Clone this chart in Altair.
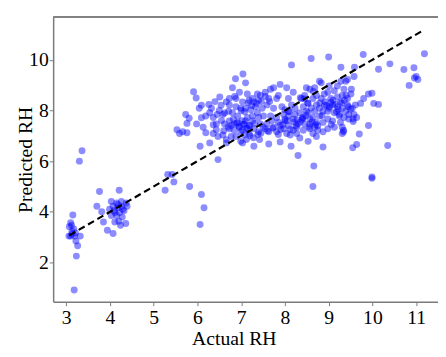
import altair as alt
import pandas as pd

# Actual RH (x) and Predicted RH (y)
actual = [
    3.15, 3.10, 3.12, 3.07, 3.17, 3.13, 3.10, 3.19, 3.32, 3.22, 3.26, 3.23, 3.18, 3.30, 3.36, 3.13, 3.06, 3.21,
    3.76, 3.70, 3.81, 3.85, 3.94, 4.07, 4.21, 4.03, 4.15, 4.26, 4.37, 4.07, 4.18, 4.29, 4.11, 4.22, 4.32, 4.03,
    4.15, 4.28, 4.11, 4.24, 4.36, 3.99, 4.26, 4.39, 4.18, 4.09, 4.20,
    5.26, 5.32, 5.42, 5.46, 5.82, 6.09, 6.15, 6.06, 6.47, 6.06, 8.64, 8.66, 9.99, 9.99, 8.30, 10.35, 9.55, 9.64,
    8.87, 8.14, 7.89, 7.63, 7.29, 6.66,
    8.15, 8.60, 9.00, 9.79, 11.19, 10.40, 10.14, 10.72, 10.95, 10.84, 11.00, 11.04, 10.96, 9.28, 9.59, 9.43, 9.58,
    10.14, 10.03, 9.91, 9.99, 9.91, 9.70, 9.56, 9.31, 9.34, 8.72, 8.53, 8.75,
    5.91, 5.97, 5.73, 5.81, 5.76, 5.53, 5.59, 5.66, 5.76, 5.98, 6.04, 6.09, 6.13, 6.19, 6.28, 6.09, 6.19, 6.26,
    6.28, 6.36, 6.43, 6.51, 6.54, 6.66, 6.73, 6.45, 6.58, 6.71, 6.62, 6.73, 6.84, 6.80, 6.87, 7.04, 7.10, 6.96,
    6.88, 7.03, 6.99, 6.92, 6.88, 6.99, 7.03, 7.07, 6.77, 6.66, 6.58, 6.47,
    7.18, 7.29, 7.40, 7.22, 7.33, 7.48, 7.14, 7.26, 7.40, 7.51, 7.18, 7.07, 6.96, 6.84, 7.29, 7.40, 7.18, 7.03,
    7.14, 7.37, 7.55, 7.67, 7.74, 7.89, 7.63, 7.81, 7.59, 7.74, 7.93, 7.67, 7.81, 7.97, 7.59, 7.74, 7.63, 7.81,
    7.89, 8.00, 8.08, 8.04, 8.19, 8.15, 8.08, 8.23, 8.08, 8.19, 8.04, 8.27, 8.34, 8.42, 8.30, 8.42, 8.57, 8.49,
    8.38, 8.45, 8.57, 8.49, 8.68, 8.79, 8.83, 8.64, 8.72, 8.83, 8.90, 8.68, 8.79, 8.57, 8.68, 8.57, 8.64, 8.87,
    8.98, 8.98, 9.05, 9.13, 9.01, 9.20, 9.35, 9.31, 9.43, 9.51, 9.52, 9.09, 9.20, 9.31, 9.43, 9.54, 9.61, 9.73,
    9.80, 9.13, 9.24, 9.35, 9.46, 9.58, 9.09, 9.27, 9.31, 9.13, 8.98, 8.87, 9.56, 8.98, 8.90, 8.72, 9.28, 9.39,
    6.73, 6.77, 6.92, 7.10, 6.99, 7.14, 7.26, 7.37, 7.44, 7.55, 6.36, 6.43, 6.36, 6.32, 6.73, 6.88, 6.80, 7.10,
    7.26, 7.44, 7.85, 8.23, 8.00, 8.42, 8.53, 8.19, 8.45, 8.64, 8.27, 8.12, 7.97, 7.85, 7.70, 8.08, 8.53, 8.34,
    8.72, 8.79, 8.87, 9.01, 9.20, 9.27, 9.39, 9.46, 9.34, 9.64,
    # extra points in the dense core
    6.95, 7.05, 7.12, 7.20, 7.31, 7.02, 6.90, 7.16, 7.24, 7.35, 7.46, 7.08, 6.82, 6.70, 6.60, 6.55, 6.50, 6.40,
    7.20, 7.28, 7.12, 7.38, 7.50, 7.60, 7.72, 7.85, 7.95, 8.05, 8.12, 8.25, 8.35, 8.40, 8.48, 8.55, 8.62, 8.70,
    8.35, 8.45, 8.52, 8.60, 8.28, 8.40, 8.95, 9.05, 9.15, 9.22, 9.30, 9.10, 9.02, 9.18, 9.25, 9.36, 9.45, 8.92,
    9.50, 9.40, 9.06, 8.80, 8.75, 8.85, 7.65, 7.55, 7.45, 7.90, 8.00, 8.10, 6.62, 6.85, 7.00, 7.42, 8.20, 8.65,
]
predicted = [
    3.87, 3.57, 3.47, 3.41, 3.32, 3.22, 3.04, 3.04, 3.04, 2.85, 2.66, 2.25, 0.91, 6.00, 6.41, 3.12, 3.04, 3.16,
    4.80, 4.22, 4.00, 3.60, 3.27, 3.14, 4.85, 4.41, 4.35, 4.41, 4.35, 4.22, 4.16, 4.10, 3.97, 3.97, 4.04, 3.85,
    3.85, 3.79, 3.60, 3.47, 3.54, 4.10, 4.22, 4.22, 4.29, 4.04, 3.63,
    4.85, 5.47, 5.47, 5.18, 5.00, 4.68, 4.16, 3.50, 6.06, 6.59, 5.00, 5.81, 5.32, 5.37, 6.22, 6.62, 6.53, 6.66,
    6.56, 6.59, 6.76, 6.68, 6.59, 6.72,
    9.80, 10.05, 10.11, 10.21, 10.24, 9.84, 9.63, 9.62, 9.69, 8.99, 9.34, 9.22, 9.28, 9.71, 9.71, 9.22, 9.34,
    8.24, 8.28, 8.65, 8.68, 7.41, 7.07, 7.66, 7.09, 7.22, 6.97, 6.78, 7.22,
    8.74, 8.49, 7.84, 7.69, 7.49, 7.24, 7.09, 7.16, 7.12, 7.47, 8.09, 7.71, 7.34, 7.12, 6.72, 8.21, 7.78, 8.24,
    7.91, 7.44, 7.24, 8.53, 8.21, 8.34, 8.47, 7.84, 7.84, 7.97, 7.47, 7.28, 7.47, 8.90, 9.25, 9.44, 9.09, 8.72,
    8.47, 8.34, 8.09, 7.78, 6.97, 6.78, 6.72, 7.03, 6.97, 6.85, 7.03, 6.97,
    8.40, 8.34, 8.40, 8.03, 8.15, 8.09, 7.72, 7.59, 7.72, 7.78, 7.41, 7.47, 7.34, 7.22, 7.28, 7.16, 7.09, 7.22,
    8.65, 8.65, 8.72, 8.84, 8.90, 9.03, 8.47, 8.47, 8.22, 8.09, 8.15, 7.78, 7.72, 7.84, 7.47, 7.34, 7.16, 7.16,
    7.41, 7.59, 8.47, 8.90, 8.72, 8.22, 7.97, 7.84, 7.41, 7.22, 7.09, 7.09, 6.91, 7.22, 7.47, 7.72, 7.66, 7.97,
    8.47, 8.59, 8.84, 8.90, 8.90, 9.15, 9.09, 8.47, 8.22, 8.47, 8.22, 7.97, 7.78, 7.47, 7.34, 7.28, 7.09, 7.53,
    7.66, 7.97, 8.47, 8.78, 8.97, 8.97, 8.84, 8.59, 8.47, 8.65, 8.84, 8.22, 8.15, 8.09, 8.22, 8.09, 8.22, 8.28,
    8.47, 7.91, 7.78, 7.72, 7.84, 7.84, 7.59, 7.53, 7.34, 7.34, 7.28, 7.16, 7.56, 8.72, 8.65, 8.59, 9.15, 9.15,
    7.59, 7.41, 7.53, 7.59, 7.16, 7.28, 7.78, 7.91, 7.47, 7.28, 7.09, 7.47, 7.72, 8.09, 8.22, 8.15, 7.91, 8.09,
    8.47, 8.59, 8.59, 8.09, 8.03, 8.15, 8.28, 7.66, 7.47, 7.72, 7.34, 7.03, 7.28, 7.53, 7.59, 7.78, 7.91, 7.91,
    7.53, 8.09, 7.97, 8.09, 8.53, 8.34, 7.97, 7.66, 7.16, 7.72,
    7.38, 7.45, 7.30, 7.40, 7.50, 7.60, 7.50, 8.30, 8.20, 8.28, 8.35, 7.95, 7.65, 7.35, 7.20, 7.60, 8.00, 8.35,
    7.00, 6.92, 6.85, 7.05, 7.35, 7.20, 7.30, 7.05, 7.45, 7.60, 7.25, 7.40, 7.55, 7.65, 7.80, 7.35, 7.55, 7.45,
    8.50, 8.45, 8.30, 8.10, 7.62, 7.70, 8.20, 8.32, 8.25, 8.05, 8.30, 8.40, 8.15, 7.95, 7.85, 8.40, 8.15, 8.35,
    8.05, 8.60, 7.45, 8.30, 7.40, 7.80, 8.35, 8.55, 7.10, 7.25, 7.65, 7.95, 7.90, 8.55, 8.00, 6.85, 7.55, 8.75,
]

# identity reference line (y = x)
line_x = [3.07, 11.19]
line_y = [3.07, 11.19]

x_ticks = [3, 4, 5, 6, 7, 8, 9, 10, 11]
y_ticks = [2, 4, 6, 8, 10]

pts = pd.DataFrame({"actual": actual, "predicted": predicted})
ref = pd.DataFrame({"actual": line_x, "predicted": line_y})

W, H = 392, 290
FONT = "Liberation Serif"
GRAY = "#7a7a7a"

xscale = alt.Scale(domain=[2.7, 11.5], nice=False, zero=False)
yscale = alt.Scale(domain=[0.45, 11.69], nice=False, zero=False)

xaxis = alt.Axis(
    values=x_ticks, title="Actual RH", grid=False, domainColor=GRAY, domainWidth=1.5,
    tickColor=GRAY, tickSize=4, tickWidth=1, labelPadding=2,
    labelFont=FONT, labelFontSize=20, labelColor="black",
    titleFont=FONT, titleFontSize=20, titleFontWeight="normal", titleColor="black",
    titleX=184, titleY=44, titleBaseline="alphabetic",
)
yaxis = alt.Axis(
    values=y_ticks, title="Predicted RH", grid=False, domainColor=GRAY, domainWidth=1.5,
    tickColor=GRAY, tickSize=4, tickWidth=1, labelPadding=1,
    labelFont=FONT, labelFontSize=20, labelColor="black",
    titleFont=FONT, titleFontSize=20, titleFontWeight="normal", titleColor="black",
    titleX=-22, titleY=H / 2, titleAngle=-90, titleAlign="center", titleBaseline="alphabetic",
)

points = alt.Chart(pts).mark_circle(size=50, color="#0000ff", opacity=0.45).encode(
    x=alt.X("actual:Q", scale=xscale, axis=xaxis),
    y=alt.Y("predicted:Q", scale=yscale, axis=yaxis),
)

line = alt.Chart(ref).mark_line(color="black", strokeWidth=2.2, strokeDash=[7, 4]).encode(
    x=alt.X("actual:Q", scale=xscale),
    y=alt.Y("predicted:Q", scale=yscale),
)

top_border = alt.Chart(ref).mark_rule(color=GRAY, strokeWidth=1.5).encode(
    x=alt.value(0), x2=alt.value(W), y=alt.value(0)
)

chart = alt.layer(points, line, top_border).properties(
    width=W, height=H,
    autosize=alt.AutoSizeParams(type="none"),
    padding={"left": 46, "top": 6, "right": 0, "bottom": 45},
    background="white",
).configure_view(stroke=None)

chart.save("out.html", embed_options={"renderer": "svg", "actions": False})
